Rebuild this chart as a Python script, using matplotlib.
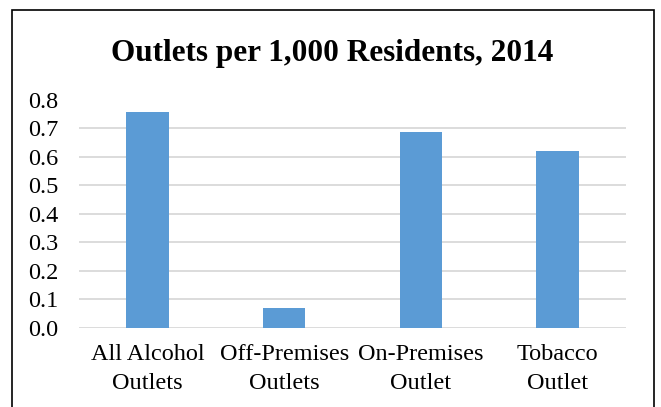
import matplotlib
matplotlib.use("Agg")
import matplotlib.pyplot as plt
from matplotlib.patches import Rectangle

categories = ["All Alcohol\nOutlets", "Off-Premises\nOutlets", "On-Premises\nOutlet", "Tobacco\nOutlet"]
values = [0.756, 0.068, 0.686, 0.618]
yticks = [0.0, 0.1, 0.2, 0.3, 0.4, 0.5, 0.6, 0.7, 0.8]
title = "Outlets per 1,000 Residents, 2014"

plt.rcParams['font.family'] = ['Liberation Serif', 'DejaVu Serif']

W, H = 661, 407
fig = plt.figure(figsize=(W/100, H/100), dpi=100)
ax = fig.add_axes([79.3/W, 1-327.7/H, (625.7-79.3)/W, (327.7-99.5)/H])

x = list(range(len(categories)))
ax.bar(x, values, width=0.31, color="#5B9BD5", zorder=3)
ax.set_xlim(-0.5, len(categories)-0.5)
ax.set_ylim(0, 0.8)
ax.set_yticks(yticks)
ax.set_yticklabels([f"{v:.1f}" for v in yticks], fontsize=17.5)
ax.set_xticks(x)
ax.set_xticklabels(categories, fontsize=17.5, linespacing=1.45)
ax.tick_params(axis='both', length=0)
ax.tick_params(axis='y', pad=15)
ax.tick_params(axis='x', pad=12)
ax.grid(axis='y', color="#D9D9D9", linewidth=1.3, zorder=0)
for s in ax.spines.values():
    s.set_visible(False)

fig.text(332/W, 1-61/H, title, ha='center', va='baseline', fontsize=22.5, fontweight='bold')

fig.patches.append(Rectangle((12/W, -0.05), (654-12)/W, 1-10/H+0.05, transform=fig.transFigure,
                             fill=False, edgecolor='black', linewidth=1.2))

fig.savefig("out.png", dpi=100)
